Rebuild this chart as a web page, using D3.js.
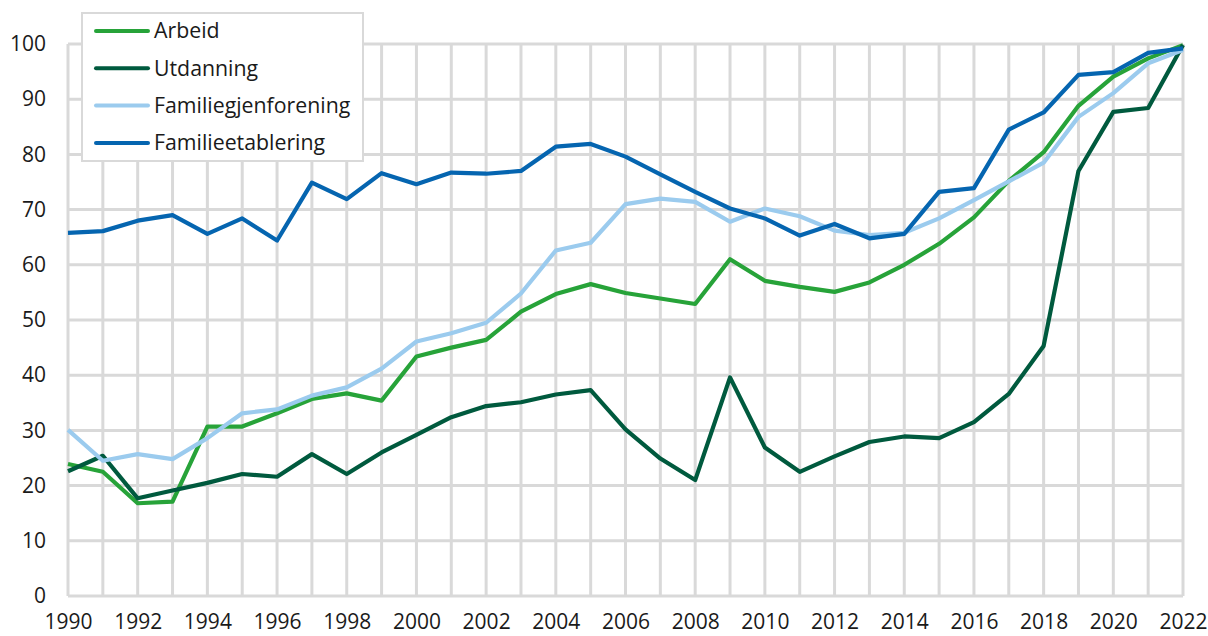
<!DOCTYPE html>
<html>
<head>
<meta charset="utf-8">
<script src="https://cdn.jsdelivr.net/npm/d3@7"></script>
<style>
  body { margin: 0; padding: 0; background: #fff; }
  text { font-family: "Open Sans", sans-serif; }
</style>
</head>
<body>
<div id="chart"></div>
<script>
  // data
  var years = d3.range(1990, 2023)
  var arbeid = [23.9, 22.5, 16.8, 17.1, 30.7, 30.7, 33.1, 35.7, 36.7, 35.4, 43.4, 45.0, 46.4, 51.5, 54.7, 56.5, 54.9, 53.9, 52.9, 61.0, 57.1, 56.0, 55.1, 56.8, 60.0, 63.8, 68.6, 75.2, 80.4, 88.8, 94.1, 97.4, 99.8]
  var utdanning = [22.6, 25.4, 17.7, 19.1, 20.5, 22.1, 21.6, 25.7, 22.1, 26.0, 29.2, 32.4, 34.4, 35.1, 36.5, 37.3, 30.2, 24.9, 21.0, 39.6, 26.9, 22.5, 25.3, 27.9, 28.9, 28.6, 31.5, 36.6, 45.3, 77.0, 87.7, 88.4, 99.8]
  var gjenforening = [30.1, 24.5, 25.7, 24.8, 28.6, 33.1, 33.8, 36.3, 37.8, 41.2, 46.1, 47.6, 49.5, 54.8, 62.6, 64.0, 71.0, 72.0, 71.4, 67.8, 70.2, 68.8, 66.2, 65.4, 65.8, 68.4, 71.7, 75.1, 78.5, 86.8, 91.1, 96.5, 98.9]
  var etablering = [65.8, 66.1, 68.0, 69.0, 65.6, 68.4, 64.4, 74.9, 71.9, 76.6, 74.6, 76.7, 76.5, 77.0, 81.4, 81.9, 79.6, 76.4, 73.2, 70.2, 68.4, 65.3, 67.4, 64.8, 65.6, 73.2, 73.9, 84.5, 87.6, 94.4, 94.9, 98.4, 99.2]
  var names = ['Arbeid', 'Utdanning', 'Familiegjenforening', 'Familieetablering']
  var colours = ['#27a339', '#005a3e', '#9bcbee', '#0565b0']
  var yTicks = d3.range(0, 101, 10)
  var xTicks = d3.range(1990, 2023, 2)

  var series = [arbeid, utdanning, gjenforening, etablering]

  var width = 1208, height = 636
  var plotLeft = 68, plotRight = 1183, plotTop = 44, plotBottom = 596

  var svg = d3.select('#chart').append('svg')
    .attr('width', width).attr('height', height)

  var x = d3.scaleLinear().domain([1990, 2022]).range([plotLeft, plotRight])
  var y = d3.scaleLinear().domain([0, 100]).range([plotBottom, plotTop])

  // grid
  svg.selectAll('.vgrid').data(years).enter().append('line')
    .attr('x1', d => x(d)).attr('x2', d => x(d))
    .attr('y1', plotTop).attr('y2', plotBottom)
    .style('stroke', '#d9d9d9').style('stroke-width', 3)

  svg.selectAll('.hgrid').data(yTicks).enter().append('line')
    .attr('x1', plotLeft).attr('x2', plotRight)
    .attr('y1', d => y(d)).attr('y2', d => y(d))
    .style('stroke', '#d9d9d9').style('stroke-width', 3)

  // axes (labels only)
  var yAxis = svg.append('g').attr('transform', 'translate(' + (plotLeft - 22) + ',0)')
    .call(d3.axisLeft(y).tickValues(yTicks).tickSize(0).tickPadding(0))
  var xAxis = svg.append('g').attr('transform', 'translate(0,' + (plotBottom + 18) + ')')
    .call(d3.axisBottom(x).tickValues(xTicks).tickSize(0).tickPadding(0).tickFormat(d3.format('d')))

  ;[yAxis, xAxis].forEach(a => {
    a.select('.domain').remove()
    a.selectAll('text').attr('font-family', '"Open Sans", sans-serif')
      .attr('font-size', 21).style('fill', '#1a1a1a')
  })

  // lines
  var line = d3.line().x((d, i) => x(years[i])).y(d => y(d))
  series.forEach((s, k) => {
    svg.append('path').datum(s)
      .attr('d', line)
      .style('fill', 'none')
      .style('stroke', colours[k])
      .style('stroke-width', 4.2)
      .style('stroke-linejoin', 'round')
  })

  // legend
  var lg = svg.append('g')
  lg.append('rect')
    .attr('x', 82).attr('y', 13).attr('width', 281).attr('height', 148)
    .style('fill', '#fff').style('stroke', '#d9d9d9').style('stroke-width', 2)

  names.forEach((n, k) => {
    var ly = 31 + k * 37.3
    lg.append('line')
      .attr('x1', 96).attr('x2', 148).attr('y1', ly).attr('y2', ly)
      .style('stroke', colours[k]).style('stroke-width', 4).style('stroke-linecap', 'round')
    lg.append('text')
      .text(n)
      .attr('x', 154).attr('y', ly)
      .attr('dy', '0.35em')
      .attr('font-size', 21.3)
      .style('fill', '#1a1a1a')
  })
</script>
</body>
</html>
